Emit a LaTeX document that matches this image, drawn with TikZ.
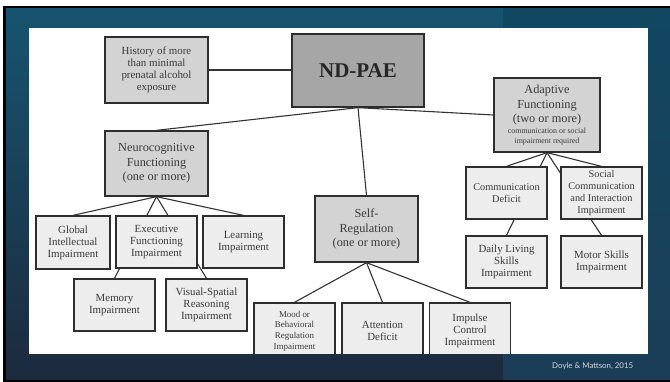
\documentclass[tikz,border=0pt]{standalone}
\usepackage{fontspec}
\setmainfont{Liberation Serif}
\newfontfamily\footfont{Lato}

\definecolor{boxline}{HTML}{2E2E2E}
\definecolor{boxtext}{HTML}{3A3A3A}
\definecolor{headfill}{HTML}{D3D3D3}
\definecolor{rootfill}{HTML}{A6A6A6}
\definecolor{leaffill}{HTML}{EDEDED}
\definecolor{linkcol}{HTML}{333333}
\definecolor{slidetopL}{HTML}{17546F}
\definecolor{slidebotL}{HTML}{1C2A3D}
\definecolor{slidetopR}{HTML}{114761}
\definecolor{slidebotR}{HTML}{1B3D57}
\definecolor{footcol}{HTML}{D4DADF}

\pgfdeclarelayer{slide}
\pgfdeclarelayer{links}
\pgfsetlayers{slide,links,main}

\begin{document}
\begin{tikzpicture}[x=1pt,y=-1pt,
  box/.style={draw=boxline, line width=1.3pt, text=boxtext, align=center,
    inner sep=0pt, font=\fontsize{10.9}{12}\selectfont},
  head/.style={box, fill=headfill, font=\fontsize{12.3}{14.5}\selectfont},
  leaf/.style={box, fill=leaffill, minimum width=81pt, minimum height=52pt},
  link/.style={draw=linkcol, line width=1.1pt}]
\useasboundingbox (0,0) rectangle (670,382);

% slide frame and white panel
\begin{pgfonlayer}{slide}
  \fill[white] (0,0) rectangle (670,382);
  \fill[black] (3,6) rectangle (670,382);
  \shade[top color=slidetopL, bottom color=slidebotL] (6,9) rectangle (503,379);
  \shade[top color=slidetopR, bottom color=slidebotR] (503,9) rectangle (670,379);
  \fill[white] (29,28) rectangle (648,354);
\end{pgfonlayer}

\begin{scope}
\clip (29,28) rectangle (648,354);
% top level
\node[box, fill=headfill, minimum width=103pt, minimum height=66pt] (hist) at (156.5,70)
  {History of more\\than minimal\\prenatal alcohol\\exposure};
\node[box, fill=rootfill, minimum width=132pt, minimum height=73pt,
  font=\fontsize{21}{24}\bfseries\selectfont, text=black!85] (nd) at (358,70.5) {ND-PAE};

% domains
\node[head, minimum width=103pt, minimum height=65pt] (neuro) at (156.5,163.5)
  {Neurocognitive\\Functioning\\(one or more)};
\node[head, minimum width=103pt, minimum height=66pt] (self) at (366.5,229)
  {Self-\\Regulation\\(one or more)};
\node[head, minimum width=106pt, minimum height=74pt] (adapt) at (547,115)
  {Adaptive\\Functioning\\(two or more)\\[-3.6pt]
   {\fontsize{7.9}{9}\selectfont communication or social}\\[-4.8pt]
   {\fontsize{7.9}{9}\selectfont impairment required}};

% neurocognitive items
\node[leaf, minimum width=74pt, minimum height=53pt] (global) at (73,242.5)
  {Global\\Intellectual\\Impairment};
\node[leaf] (exec) at (156.5,242) {Executive\\Functioning\\Impairment};
\node[leaf] (learn) at (243.5,242) {Learning\\Impairment};
\node[leaf] (memory) at (114.5,305) {Memory\\Impairment};
\node[leaf] (visual) at (206.5,305) {Visual-Spatial\\Reasoning\\Impairment};

% self-regulation items
\node[leaf, minimum height=56pt, font=\fontsize{8.9}{10.6}\selectfont] (mood) at (294.5,331)
  {Mood or\\Behavioral\\Regulation\\Impairment};
\node[leaf, minimum height=56pt] (attn) at (382.5,331) {Attention\\Deficit};
\node[leaf, minimum height=56pt] (impulse) at (470,331) {Impulse\\Control\\Impairment};

% adaptive items
\node[leaf, font=\fontsize{10.3}{12}\selectfont] (comm) at (506.5,193) {Communication\\Deficit};
\node[leaf, font=\fontsize{10.3}{12}\selectfont] (social) at (601.5,193)
  {Social\\Communication\\and Interaction\\Impairment};
\node[leaf] (daily) at (506.5,262) {Daily Living\\Skills\\Impairment};
\node[leaf] (motor) at (601.5,262) {Motor Skills\\Impairment};
\end{scope}

% connectors, drawn beneath the boxes
\begin{pgfonlayer}{links}
  \draw[link] (hist.east) -- (nd.west |- hist.east);
  \draw[link] (nd.south) -- (neuro.north);
  \draw[link] (nd.south) -- (self.north);
  \draw[link] (nd.south) -- (adapt.west);
  \foreach \t in {global,memory,visual,learn}
    \draw[link] (neuro.south) -- (\t.north);
  \foreach \t in {mood,attn,impulse}
    \draw[link] (self.south) -- (\t.north);
  \foreach \t in {comm,daily,motor,social}
    \draw[link] (adapt.south) -- (\t.north);
\end{pgfonlayer}

\node[font=\footfont\fontsize{7.9}{9}\selectfont, text=footcol, anchor=base west, inner sep=0pt]
  (cite) at (552,369) {Doyle \& Mattson, 2015};
\end{tikzpicture}
\end{document}
